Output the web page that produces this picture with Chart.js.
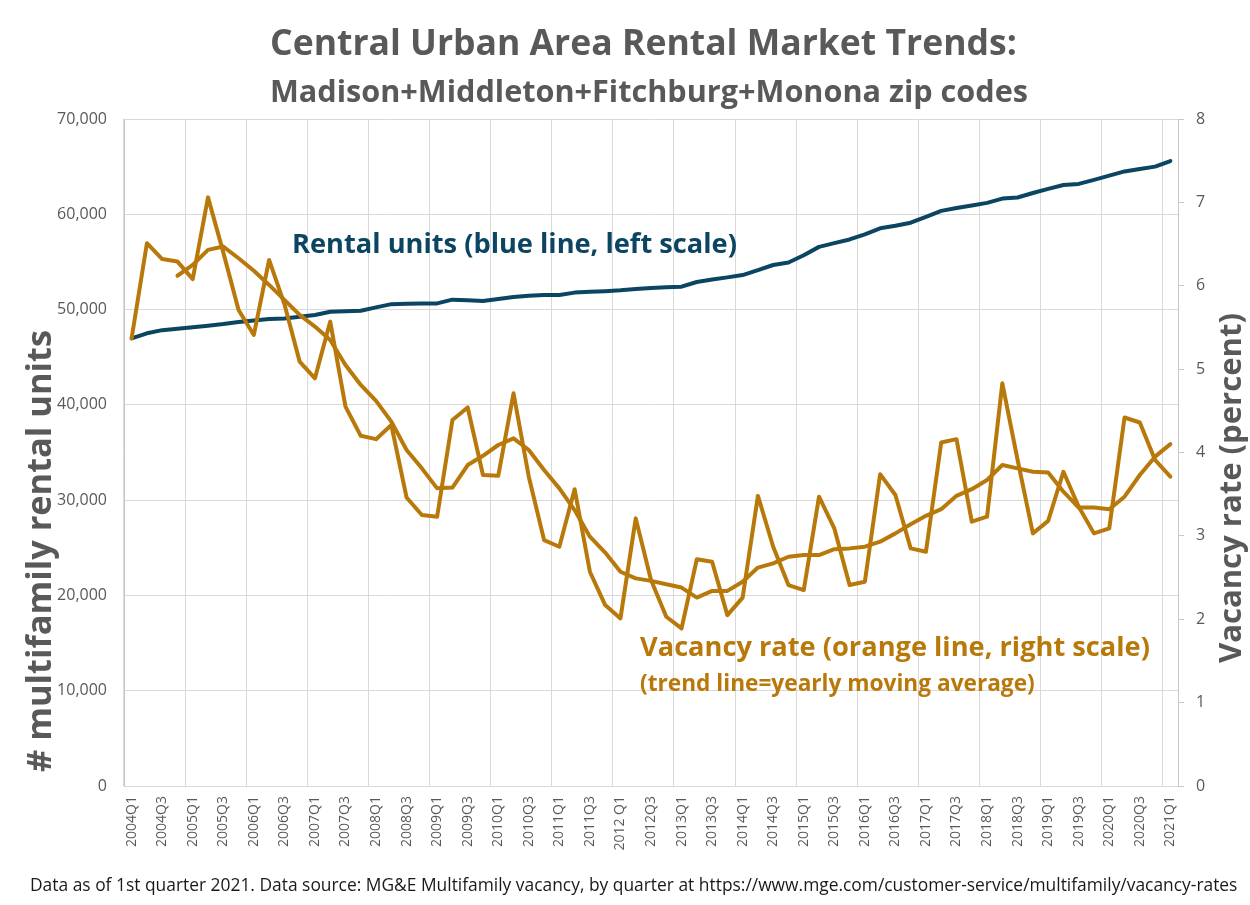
<!DOCTYPE html>
<html>
<head>
<meta charset="utf-8">
<script src="https://cdn.jsdelivr.net/npm/chart.js@4.4.1/dist/chart.umd.min.js"></script>
<style>
  html, body { margin: 0; padding: 0; background: #ffffff; }
  #wrap { width: 1250px; height: 905px; position: relative; }
</style>
</head>
<body>
<div id="wrap"><canvas id="c" width="1250" height="905"></canvas></div>
<script>
// ---------- data ----------
const quarters = [
  "2004Q1","2004Q2","2004Q3","2004Q4","2005Q1","2005Q2","2005Q3","2005Q4",
  "2006Q1","2006Q2","2006Q3","2006Q4","2007Q1","2007Q2","2007Q3","2007Q4",
  "2008Q1","2008Q2","2008Q3","2008Q4","2009Q1","2009Q2","2009Q3","2009Q4",
  "2010Q1","2010Q2","2010Q3","2010Q4","2011Q1","2011Q2","2011Q3","2011Q4",
  "2012 Q1","2012Q2","2012Q3","2012Q4","2013Q1","2013Q2","2013Q3","2013Q4",
  "2014Q1","2014Q2","2014Q3","2014Q4","2015Q1","2015Q2","2015Q3","2015Q4",
  "2016Q1","2016Q2","2016Q3","2016Q4","2017Q1","2017Q2","2017Q3","2017Q4",
  "2018Q1","2018Q2","2018Q3","2018Q4","2019Q1","2019Q2","2019Q3","2019Q4",
  "2020Q1","2020Q2","2020Q3","2020Q4","2021Q1"
];

const rentalUnits = [
  46980, 47510, 47840, 47990, 48150, 48300, 48480, 48700,
  48860, 49000, 49060, 49240, 49430, 49770, 49830, 49880,
  50230, 50570, 50600, 50630, 50650, 51040, 50990, 50900,
  51120, 51320, 51460, 51530, 51530, 51780, 51860, 51930,
  52020, 52160, 52270, 52340, 52400, 52890, 53150, 53380,
  53620, 54150, 54680, 54940, 55700, 56580, 56970, 57360,
  57900, 58530, 58790, 59120, 59730, 60360, 60660, 60930,
  61200, 61650, 61760, 62230, 62670, 63080, 63190, 63610,
  64060, 64500, 64750, 65000, 65590
];

const vacancyRate = [
  5.37, 6.51, 6.32, 6.29, 6.08, 7.06, 6.40, 5.71,
  5.41, 6.31, 5.78, 5.09, 4.89, 5.57, 4.55, 4.20,
  4.16, 4.33, 3.46, 3.25, 3.23, 4.39, 4.54, 3.73,
  3.72, 4.71, 3.71, 2.95, 2.87, 3.56, 2.57, 2.17,
  2.01, 3.21, 2.47, 2.03, 1.89, 2.72, 2.69, 2.05,
  2.26, 3.48, 2.87, 2.41, 2.35, 3.47, 3.09, 2.41,
  2.45, 3.74, 3.49, 2.85, 2.81, 4.12, 4.16, 3.17,
  3.23, 4.83, 3.91, 3.03, 3.18, 3.77, 3.35, 3.03,
  3.09, 4.42, 4.36, 3.91, 3.71
];

const vacancyTrend = [
  null, null, null, 6.12, 6.25, 6.43, 6.47, 6.33,
  6.18, 6.01, 5.83, 5.65, 5.51, 5.35, 5.05, 4.81,
  4.62, 4.37, 4.03, 3.81, 3.57, 3.58, 3.85, 3.96,
  4.09, 4.17, 4.03, 3.79, 3.57, 3.31, 2.99, 2.80,
  2.57, 2.49, 2.46, 2.42, 2.38, 2.26, 2.34, 2.34,
  2.45, 2.62, 2.67, 2.75, 2.77, 2.77, 2.84, 2.85,
  2.87, 2.93, 3.03, 3.14, 3.24, 3.32, 3.48, 3.56,
  3.67, 3.85, 3.81, 3.77, 3.76, 3.53, 3.34, 3.34,
  3.32, 3.47, 3.73, 3.95, 4.10
];

const leftTicks = [0, 10000, 20000, 30000, 40000, 50000, 60000, 70000];
const rightTicks = [0, 1, 2, 3, 4, 5, 6, 7, 8];

const titleText = "Central Urban Area Rental Market Trends:";
const subtitleText = "Madison+Middleton+Fitchburg+Monona zip codes";
const rentalNote = "Rental units (blue line, left scale)";
const vacancyNote = "Vacancy rate (orange line, right scale)";
const trendNote = "(trend line=yearly moving average)";
const leftAxisTitle = "# multifamily rental units";
const rightAxisTitle = "Vacancy rate (percent)";
const footerText = "Data as of 1st quarter 2021. Data source: MG&E Multifamily vacancy, by quarter at https://www.mge.com/customer-service/multifamily/vacancy-rates";

// ---------- styles ----------
const BLUE = "#0b4561";
const ORANGE = "#b8790a";
const GRAY = "#595959";
const GRID = "#d9d9d9";
const AXIS = "#c8c8c8";
const FAMILY = "'Open Sans', 'Noto Sans', sans-serif";

// text fitted to a target width
function drawFitted(ctx, text, weight, color, x0, x1, baseline, rotate) {
  ctx.save();
  ctx.font = weight + " 100px " + FAMILY;
  const w = ctx.measureText(text).width;
  const target = Math.abs(x1 - x0);
  const size = 100 * target / w;
  ctx.font = weight + " " + size.toFixed(2) + "px " + FAMILY;
  ctx.fillStyle = color;
  ctx.textBaseline = "alphabetic";
  ctx.textAlign = "left";
  if (rotate) {
    // rotated -90deg: text reads bottom to top; x0 = bottom y, baseline = x coord
    ctx.translate(baseline, x0);
    ctx.rotate(-Math.PI / 2);
    ctx.fillText(text, 0, 0);
  } else {
    ctx.fillText(text, x0, baseline);
  }
  ctx.restore();
}

const textPlugin = {
  id: "texts",
  afterDraw(chart) {
    const ctx = chart.ctx;
    drawFitted(ctx, titleText, "bold", GRAY, 270, 1017, 55);
    drawFitted(ctx, subtitleText, "bold", GRAY, 270, 1028, 102);
    drawFitted(ctx, rentalNote, "bold", BLUE, 292, 737, 253);
    drawFitted(ctx, vacancyNote, "bold", ORANGE, 640, 1150, 656);
    drawFitted(ctx, trendNote, "bold", ORANGE, 640, 1035, 691);
    drawFitted(ctx, footerText, "normal", "#1a1a1a", 30, 1238, 891);
    drawFitted(ctx, leftAxisTitle, "bold", GRAY, 772, 330, 51, true);
    drawFitted(ctx, rightAxisTitle, "bold", GRAY, 663, 313, 1241, true);
  }
};

const bgPlugin = {
  id: "bg",
  beforeDraw(chart) {
    const ctx = chart.ctx;
    ctx.save();
    ctx.fillStyle = "#ffffff";
    ctx.fillRect(0, 0, chart.width, chart.height);
    ctx.restore();
  }
};

new Chart(document.getElementById("c"), {
  type: "line",
  data: {
    labels: quarters,
    datasets: [
      {
        label: "Vacancy rate",
        data: vacancyRate,
        yAxisID: "yR",
        borderColor: ORANGE,
        borderWidth: 4,
        pointRadius: 0,
        tension: 0,
        borderJoinStyle: "round",
        borderCapStyle: "round",
        order: 1
      },
      {
        label: "Vacancy trend",
        data: vacancyTrend,
        yAxisID: "yR",
        borderColor: ORANGE,
        borderWidth: 4,
        pointRadius: 0,
        tension: 0,
        spanGaps: false,
        borderJoinStyle: "round",
        borderCapStyle: "round",
        order: 2
      },
      {
        label: "Rental units",
        data: rentalUnits,
        yAxisID: "yL",
        borderColor: BLUE,
        borderWidth: 4,
        pointRadius: 0,
        tension: 0,
        borderJoinStyle: "round",
        borderCapStyle: "round",
        order: 3
      }
    ]
  },
  options: {
    responsive: false,
    animation: false,
    devicePixelRatio: 1,
    layout: { padding: { top: 119, left: 0, right: 0, bottom: 39 } },
    plugins: {
      legend: { display: false },
      tooltip: { enabled: false },
      title: { display: false }
    },
    scales: {
      x: {
        type: "category",
        offset: true,
        grid: {
          offset: true,
          drawTicks: false,
          color: (c) => (c.index % 4 === 0 ? GRID : "rgba(0,0,0,0)"),
          lineWidth: 1
        },
        border: { display: true, color: GRID },
        ticks: {
          autoSkip: false,
          maxRotation: 90,
          minRotation: 90,
          padding: 10,
          color: GRAY,
          font: { family: FAMILY, size: 14 },
          callback: function (value, index) {
            return index % 2 === 0 ? this.getLabelForValue(value) : "";
          }
        },
        afterFit: (s) => { s.height = 80; }
      },
      yL: {
        type: "linear",
        position: "left",
        min: leftTicks[0],
        max: leftTicks[leftTicks.length - 1],
        afterBuildTicks: (s) => { s.ticks = leftTicks.map(v => ({ value: v })); },
        grid: { color: GRID, lineWidth: 1, drawTicks: false },
        border: { display: true, color: AXIS },
        ticks: {
          padding: 17,
          color: GRAY,
          font: { family: FAMILY, size: 16 },
          callback: (v) => Number(v).toLocaleString("en-US")
        },
        afterFit: (s) => { s.width = 124; }
      },
      yR: {
        type: "linear",
        position: "right",
        min: rightTicks[0],
        max: rightTicks[rightTicks.length - 1],
        afterBuildTicks: (s) => { s.ticks = rightTicks.map(v => ({ value: v })); },
        grid: { drawOnChartArea: false, drawTicks: true, tickLength: 6, color: AXIS },
        border: { display: true, color: AXIS },
        ticks: {
          padding: 12,
          color: GRAY,
          font: { family: FAMILY, size: 16 },
          callback: (v) => String(v)
        },
        afterFit: (s) => { s.width = 72; }
      }
    }
  },
  plugins: [bgPlugin, textPlugin]
});
</script>
</body>
</html>
